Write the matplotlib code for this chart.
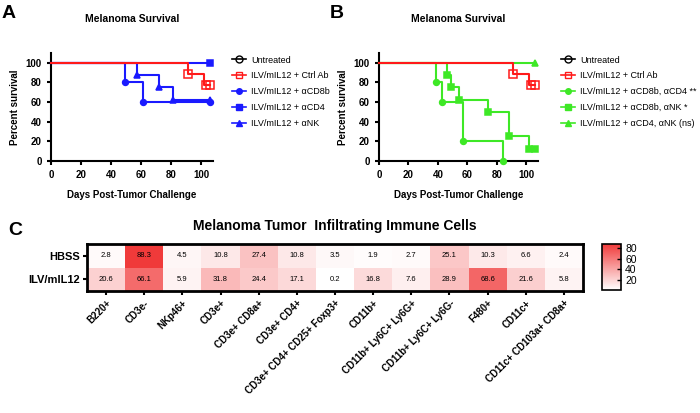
import matplotlib
matplotlib.use("Agg")
import matplotlib.pyplot as plt
import numpy as np
from matplotlib.colors import LinearSegmentedColormap
from matplotlib.lines import Line2D

plt.rcParams['font.family'] = ['Liberation Sans', 'DejaVu Sans']

# ---- Survival data (times, survival %) ----
ctrl_t = [0, 91, 102, 106]
ctrl_s = [100, 88.9, 77.8, 77.8]
ctrl_mk_t = [91, 103, 106]
ctrl_mk_s = [88.9, 77.8, 77.8]

cd8_t = [0, 49, 61, 106]
cd8_s = [100, 80, 60, 60]
cd4_t = [0, 106]
cd4_s = [100, 100]
nk_t = [0, 57, 72, 81, 106]
nk_s = [100, 87.5, 75, 62.5, 62.5]

cd8cd4_t = [0, 39, 43, 57, 84]
cd8cd4_s = [100, 80, 60, 20, 0]
cd8nk_t = [0, 46, 49, 54, 74, 88, 102, 106]
cd8nk_s = [100, 87.5, 75, 62.5, 50, 25, 12.5, 12.5]
cd4nk_t = [0, 106]
cd4nk_s = [100, 100]

legend_a = ["Untreated", "ILV/mIL12 + \u03b1CD8b", "ILV/mIL12 + \u03b1CD4", "ILV/mIL12 + \u03b1NK"]
legend_b = ["ILV/mIL12 + \u03b1CD8b, \u03b1CD4 **", "ILV/mIL12 + \u03b1CD8b, \u03b1NK *", "ILV/mIL12 + \u03b1CD4, \u03b1NK (ns)"]
ctrl_label = "ILV/mIL12 + Ctrl Ab"

# ---- Heatmap data ----
rows = ["HBSS", "ILV/mIL12"]
cols = ["B220+", "CD3e-", "NKp46+", "CD3e+", "CD3e+ CD8a+", "CD3e+ CD4+",
        "CD3e+ CD4+ CD25+ Foxp3+", "CD11b+", "CD11b+ Ly6C+ Ly6G+",
        "CD11b+ Ly6C+ Ly6G-", "F480+", "CD11c+", "CD11c+ CD103a+ CD8a+"]
hbss = [2.8, 88.3, 4.5, 10.8, 27.4, 10.8, 3.5, 1.9, 2.7, 25.1, 10.3, 6.6, 2.4]
ilv = [20.6, 66.1, 5.9, 31.8, 24.4, 17.1, 0.2, 16.8, 7.6, 28.9, 68.6, 21.6, 5.8]

W, H = 700, 413
fig = plt.figure(figsize=(7, 4.13), dpi=100)

def ax_rect(x0, y0, x1, y1):
    return [x0 / W, 1 - y1 / H, (x1 - x0) / W, (y1 - y0) / H]

RED = '#ff1a1a'
BLUE = '#1a1aff'
GREEN = '#3ee826'

def style_surv(ax):
    ax.set_xlim(0, 108)
    ax.set_ylim(0, 110)
    ax.set_xticks([0, 20, 40, 60, 80, 100])
    ax.set_yticks([0, 20, 40, 60, 80, 100])
    for s in ['top', 'right']:
        ax.spines[s].set_visible(False)
    for s in ['left', 'bottom']:
        ax.spines[s].set_linewidth(1.5)
    ax.tick_params(labelsize=7, width=1.5, length=3)
    for lab in ax.get_xticklabels() + ax.get_yticklabels():
        lab.set_fontweight('bold')
    ax.set_xlabel("Days Post-Tumor Challenge", fontsize=7, fontweight='bold', labelpad=7)
    ax.set_title("Melanoma Survival", fontsize=7.5, fontweight='bold', pad=22)

def surv(ax, t, s, color, marker, mt=None, ms=None, fill=True):
    ax.step(t, s, where='post', color=color, lw=1.5, clip_on=False, zorder=3)
    if mt is None:
        mt, ms = t[1:], s[1:]
    ax.plot(mt, ms, ls='none', marker=marker, color=color, ms=4.2 if fill else 5.5,
            mfc=color if fill else 'none', mew=1.1, clip_on=False, zorder=4)

# Panel A
axA = fig.add_axes(ax_rect(51, 53, 213, 161))
surv(axA, cd8_t, cd8_s, BLUE, 'o')
surv(axA, nk_t, nk_s, BLUE, '^')
surv(axA, cd4_t, cd4_s, BLUE, 's')
surv(axA, ctrl_t, ctrl_s, RED, 's', ctrl_mk_t, ctrl_mk_s, fill=False)
style_surv(axA)
axA.set_ylabel("Percent survival", fontsize=7, fontweight='bold', labelpad=4)

handlesA = [
    Line2D([], [], color='black', marker='o', mfc='none', ms=5, lw=1.2),
    Line2D([], [], color=RED, marker='s', mfc='none', ms=5, lw=1.2),
    Line2D([], [], color=BLUE, marker='o', ms=4, lw=1.2),
    Line2D([], [], color=BLUE, marker='s', ms=4, lw=1.2),
    Line2D([], [], color=BLUE, marker='^', ms=4, lw=1.2),
]
labelsA = [legend_a[0], ctrl_label] + legend_a[1:]
fig.legend(handlesA, labelsA, loc='upper left', bbox_to_anchor=(228 / W, 1 - 52 / H),
           frameon=False, fontsize=6.5, handlelength=1.6, handletextpad=0.6,
           labelspacing=0.75, borderaxespad=0)

# Panel B
axB = fig.add_axes(ax_rect(379, 53, 538, 161))
surv(axB, cd8cd4_t, cd8cd4_s, GREEN, 'o')
surv(axB, cd8nk_t, cd8nk_s, GREEN, 's')
surv(axB, cd4nk_t, cd4nk_s, GREEN, '^')
surv(axB, ctrl_t, ctrl_s, RED, 's', ctrl_mk_t, ctrl_mk_s, fill=False)
style_surv(axB)
axB.set_ylabel("Percent survival", fontsize=7, fontweight='bold', labelpad=4)

handlesB = [
    Line2D([], [], color='black', marker='o', mfc='none', ms=5, lw=1.2),
    Line2D([], [], color=RED, marker='s', mfc='none', ms=5, lw=1.2),
    Line2D([], [], color=GREEN, marker='o', ms=4, lw=1.2),
    Line2D([], [], color=GREEN, marker='s', ms=4, lw=1.2),
    Line2D([], [], color=GREEN, marker='^', ms=4, lw=1.2),
]
labelsB = [legend_a[0], ctrl_label] + legend_b
fig.legend(handlesB, labelsB, loc='upper left', bbox_to_anchor=(557 / W, 1 - 52 / H),
           frameon=False, fontsize=6.5, handlelength=1.6, handletextpad=0.6,
           labelspacing=0.75, borderaxespad=0)

# Panel letters
fig.text(2 / W, 1 - 14 / H, "A", fontsize=14, fontweight='bold', va='center')
fig.text(330 / W, 1 - 14 / H, "B", fontsize=14, fontweight='bold', va='center')
fig.text(8 / W, 1 - 230 / H, "C", fontsize=14, fontweight='bold', va='center')

# Panel C heatmap
cmap = LinearSegmentedColormap.from_list('wr', ['#ffffff', '#f03a3a'])
data = np.array([hbss, ilv])
axC = fig.add_axes(ax_rect(87, 244, 583, 291))
im = axC.pcolormesh(data, cmap=cmap, vmin=0.2, vmax=88.3)
axC.set_xlim(0, len(cols))
axC.set_ylim(len(rows), 0)
for i in range(len(rows)):
    for j in range(len(cols)):
        axC.text(j + 0.5, i + 0.5, f"{data[i, j]:.1f}", ha='center', va='center', fontsize=5.5)
axC.set_xticks(np.arange(len(cols)) + 0.5)
axC.set_yticks(np.arange(len(rows)) + 0.5)
axC.set_yticklabels(rows, fontsize=8, fontweight='bold')
axC.set_xticklabels(cols, rotation=45, ha='right', rotation_mode='anchor', fontsize=7, fontweight='bold')
axC.tick_params(width=1.5, length=3, pad=2)
for s in axC.spines.values():
    s.set_linewidth(2)
axC.set_title("Melanoma Tumor  Infiltrating Immune Cells", fontsize=10, fontweight='bold', pad=10)

cax = fig.add_axes(ax_rect(602, 244, 621, 290))
cb = fig.colorbar(im, cax=cax, ticks=[20, 40, 60, 80])
cb.outline.set_linewidth(1.2)
cax.tick_params(labelsize=7.5, direction='in', length=3, width=1, pad=3)

fig.savefig("out.png", dpi=100)
